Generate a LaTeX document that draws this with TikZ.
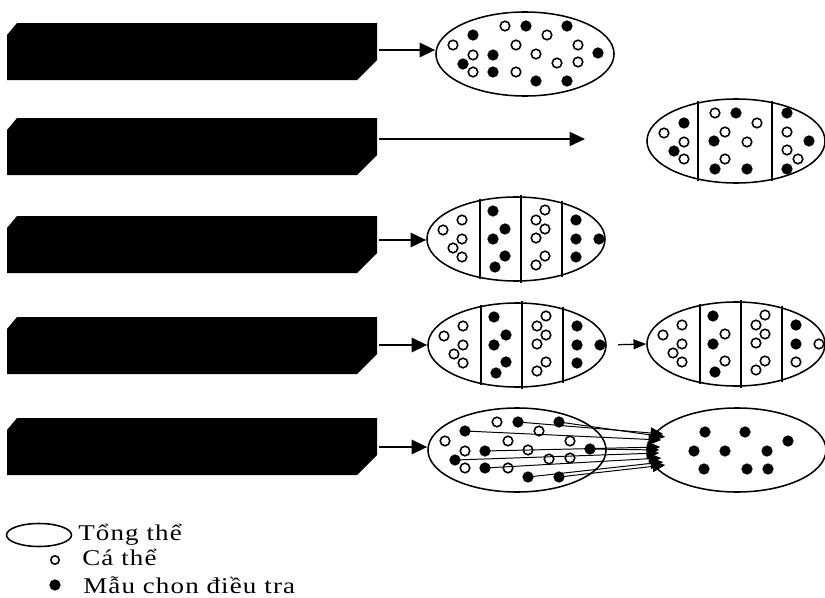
\documentclass[tikz,border=0pt]{standalone}
\usepackage{fontspec}
\newfontfamily\legfont{Liberation Serif}[FakeStretch=1.2,LetterSpace=5]
\usetikzlibrary{positioning,arrows.meta,shapes.geometric}

\tikzset{
  pop/.style={draw, ellipse, line width=1.1pt, inner sep=0pt,
    minimum width=4.45cm, minimum height=2.1cm},
  divline/.style={line width=1pt},
  ind/.style={draw, fill=white, line width=1.1pt},
  smp/.style={fill=black},
  bigarrow/.style={-{Triangle[length=11pt,width=10pt]}, line width=1.8pt},
  midarrow/.style={-{Triangle[length=11pt,width=10pt]}, line width=1.3pt},
  thinarrow/.style={-{Triangle[length=9pt,width=7pt]}, line width=0.9pt},
  pickarrow/.style={-{Triangle[length=9pt,width=8pt]}, line width=0.7pt},
  lbl/.style={font=\legfont\fontsize{16}{18}\selectfont, anchor=base west, inner sep=0pt},
}

\begin{document}
\begin{tikzpicture}[x=0.025cm, y=-0.025cm]
  \useasboundingbox (0,0) rectangle (825,598);

  % Black bars (one per row)
  \foreach \y/\ay [count=\i] in {23/50,118/139,216/240,317/345,418/447} {
    \fill (7,\y+12) -- (17,\y) -- (377,\y) -- (377,\y+37) -- (357,\y+57) -- (7,\y+57) -- cycle;
    \coordinate (b\i) at (379,\ay);
  }

  % Row 1: mixed population
  \node[pop] (e1) at (525,54) {};
  \begin{scope}[shift={(e1.center)}]
    \foreach \dx/\dy in {-20/-28,22/-19,-72/-9,-9/-9,53/-9,-52/1,11/0,32/9,53/8,-52/18,-9/18}
      \draw[ind] (\dx,\dy) circle (3.4pt);
    \foreach \dx/\dy in {1/-28,42/-28,-52/-19,-32/1,73/-1,-62/10,-32/18,11/27,42/27}
      \fill[smp] (\dx,\dy) circle (4pt);
  \end{scope}
  \draw[bigarrow] (b1) -- (b1 -| e1.west);

  % Row 2: long arrow, three strata
  \coordinate (t2) at (585,139);
  \draw[midarrow] (b2) -- (t2);
  \node[pop] (e2) at (736,141) {};
  \foreach \dx in {-38,36} {
    \pgfmathsetmacro\hh{42*sqrt(1-(\dx/89)^2)+2}
    \draw[divline] (e2.center) ++(\dx,-\hh) -- ++(0,2*\hh);
  }
  \begin{scope}[shift={(e2.center)}]
    \foreach \dx/\dy in {-72/-8,-52/1,-52/18,-21/-28,21/-18,-11/-9,11/1,-11/18,51/-9,51/9,62/18}
      \draw[ind] (\dx,\dy) circle (3.4pt);
    \foreach \dx/\dy in {-52/-18,-62/10,0/-28,-22/0,-21/28,11/28,51/-28,73/0,51/28}
      \fill[smp] (\dx,\dy) circle (4pt);
  \end{scope}

  % Row 3: four strata
  \node[pop] (e3) at (516,239) {};
  \draw[bigarrow] (b3) -- (b3 -| e3.west);
  \foreach \dx in {-36,5,46} {
    \pgfmathsetmacro\hh{42*sqrt(1-(\dx/89)^2)+2}
    \draw[divline] (e3.center) ++(\dx,-\hh) -- ++(0,2*\hh);
  }
  \begin{scope}[shift={(e3.center)}]
    \foreach \dx/\dy in {-54/-19,-73/-9,-54/0,-63/9,-54/18,29/-29,20/-19,29/-10,20/-1,29/17,20/26}
      \draw[ind] (\dx,\dy) circle (3.4pt);
    \foreach \dx/\dy in {-23/-28,-11/-10,-23/0,-11/17,-21/28,60/-19,60/0,83/0,60/18}
      \fill[smp] (\dx,\dy) circle (4pt);
  \end{scope}

  % Row 4: two stages
  \node[pop] (e4a) at (517,345) {};
  \node[pop] (e4b) at (736,344) {};
  \draw[bigarrow] (b4) -- (b4 -| e4a.west);
  \draw[thinarrow, shorten <=8pt] (e4a.east) -- (e4b.west);
  \foreach \dx in {-36,5,46} {
    \pgfmathsetmacro\hh{42*sqrt(1-(\dx/89)^2)+2}
    \draw[divline] (e4a.center) ++(\dx,-\hh) -- ++(0,2*\hh);
    \draw[divline] (e4b.center) ++(\dx,-\hh) -- ++(0,2*\hh);
  }
  \begin{scope}[shift={(e4a.center)}]
    \foreach \dx/\dy in {-54/-19,-73/-9,-54/0,-63/9,-54/18,29/-29,20/-19,29/-10,20/-1,29/17,20/26}
      \draw[ind] (\dx,\dy) circle (3.4pt);
    \foreach \dx/\dy in {-23/-28,-11/-10,-23/0,-11/17,-21/28,60/-19,60/0,83/0,60/18}
      \fill[smp] (\dx,\dy) circle (4pt);
  \end{scope}
  \begin{scope}[shift={(e4b.center)}]
    \foreach \dx/\dy in {-54/-19,-73/-9,-54/0,-63/9,-54/18,-11/-10,-11/17,29/-29,20/-19,29/-10,20/-1,29/17,20/26,83/0,60/18}
      \draw[ind] (\dx,\dy) circle (3.4pt);
    \foreach \dx/\dy in {-23/-28,-23/0,-21/28,60/-19,60/0}
      \fill[smp] (\dx,\dy) circle (4pt);
  \end{scope}

  % Row 5: picked samples moved to a new population
  \node[pop] (e5a) at (517,450) {};
  \node[pop] (e5b) at (737,450) {};
  \draw[bigarrow] (b5) -- (b5 -| e5a.west);
  \begin{scope}[shift={(e5a.center)}]
    \foreach \dx/\dy in {-20/-28,22/-19,-72/-9,-9/-9,53/-9,-52/1,11/0,32/9,53/8,-52/18,-9/18}
      \draw[ind] (\dx,\dy) circle (3.4pt);
    \foreach \dx/\dy [count=\i] in {1/-28,42/-28,-52/-19,-32/1,73/-1,-62/10,-32/18,11/27,42/27} {
      \coordinate (s\i) at (\dx,\dy);
      \fill[smp] (s\i) circle (4pt);
    }
  \end{scope}
  \foreach \i/\tx/\ty in {1/16/-16,2/18/-13,3/14/-10,4/13/-3,5/12/0,6/12/3,7/14/8,8/16/12,9/18/15}
    \draw[pickarrow] (s\i) -- ([shift={(\tx,\ty)}]e5b.west);
  \begin{scope}[shift={(e5b.center)}]
    \foreach \dx/\dy in {-32/-18,8/-18,51/-9,-43/1,-12/1,30/1,-33/19,10/19,31/19}
      \fill[smp] (\dx,\dy) circle (4pt);
  \end{scope}

  % Legend
  \node[draw, ellipse, line width=1.1pt, inner sep=0pt,
    minimum width=1.625cm, minimum height=0.575cm] (keyPop) at (39,535) {};
  \draw[ind] (55,560) circle (3pt);
  \fill[smp] (55,585) circle (4pt);
  \node[lbl] (txtPop) at (78,540) {Tổng thể};
  \node[lbl] (txtInd) at (82,565) {Cá thể};
  \node[lbl] (txtSmp) at (83,593) {Mẫu chon điều tra};
\end{tikzpicture}
\end{document}
